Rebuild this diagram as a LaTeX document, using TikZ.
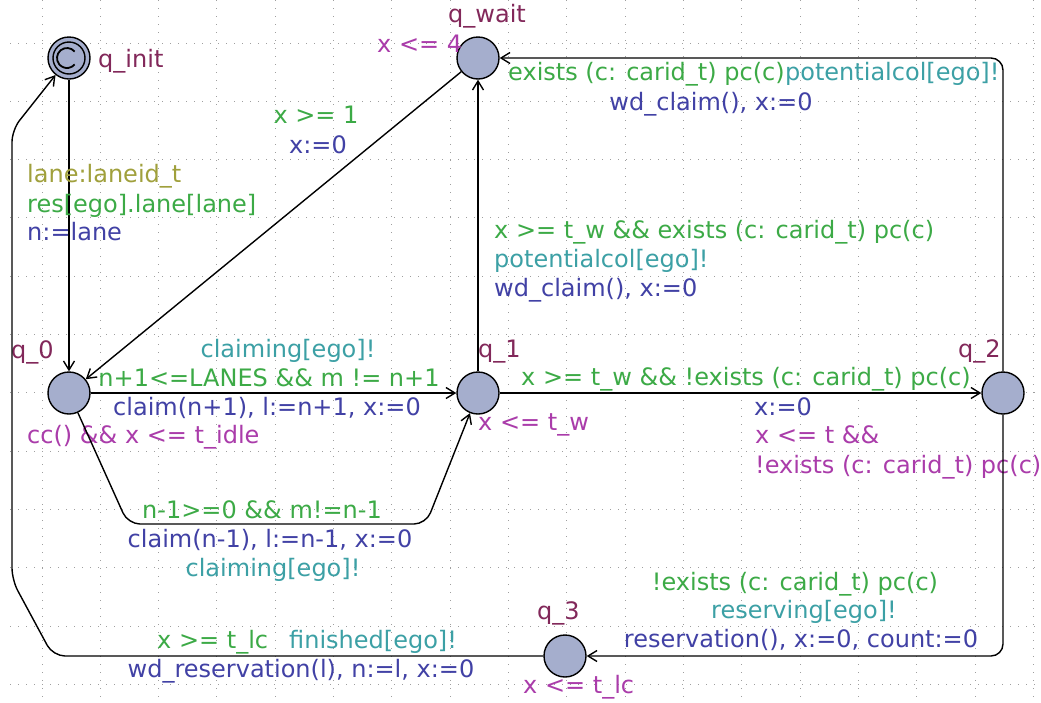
\documentclass[tikz,border=0pt]{standalone}
\usepackage{fontspec}
\setmainfont{DejaVu Sans}
\usetikzlibrary{arrows.meta}
\definecolor{cname}{RGB}{130,40,90}
\definecolor{cinv}{RGB}{170,60,170}
\definecolor{cguard}{RGB}{60,170,70}
\definecolor{csync}{RGB}{60,160,165}
\definecolor{cupd}{RGB}{65,65,165}
\definecolor{csel}{RGB}{160,160,60}
\definecolor{cfill}{RGB}{165,174,205}
\begin{document}
\begin{tikzpicture}[x=1pt,y=-1pt,
  gridline/.style={gray!75,line width=1pt,dash pattern=on 1.3pt off 6.7pt},
  loc/.style={circle,draw=black,fill=cfill,line width=1.4pt,minimum size=42pt,inner sep=0pt},
  edge/.style={line width=1.4pt,rounded corners=12pt,-{Straight Barb[length=9pt,width=11pt,line width=1.4pt]}},
  lbl/.style={inner sep=0pt,font=\fontsize{24}{29}\selectfont},
  nm/.style={lbl,text=cname},
  inv/.style={lbl,text=cinv},
  grd/.style={lbl,text=cguard},
  syn/.style={lbl,text=csync},
  upd/.style={lbl,text=cupd},
  sel/.style={lbl,text=csel}]
\useasboundingbox (0,0) rectangle (1041,702);
\fill[white] (0,0) rectangle (1041,702);
% grid
\foreach \i in {0,...,17} \draw[gridline] ({42+58.33*\i},0) -- ({42+58.33*\i},702);
\foreach \j in {0,...,11} \draw[gridline] (10,{43+58.33*\j}) -- (1041,{43+58.33*\j});
% locations
\node[loc] (qinit) at (69,58) {};
\draw[line width=1.4pt] (qinit.center) circle[radius=16pt];
\draw[line width=1.8pt] (67,58) ++(40:10pt) arc[start angle=40,end angle=320,radius=10pt];
\node[loc] (qwait) at (478,58) {};
\node[loc] (q0) at (69,393) {};
\node[loc] (q1) at (478,393) {};
\node[loc] (q2) at (1003,393) {};
\node[loc] (q3) at (565,656) {};
% location labels
\node[nm,anchor=base west] (lqinit) at (98,67) {q\_init};
\node[nm,anchor=base] (lqwait) at (487,22) {q\_wait};
\node[inv,anchor=base west] (iqwait) at (377,52) {x <= 4};
\node[nm,anchor=base west] (lq0) at (11,358) {q\_0};
\node[inv,anchor=base west] (iq0) at (27,443) {cc() \&\& x <= t\_idle};
\node[nm,anchor=base west] (lq1) at (478,357) {q\_1};
\node[inv,anchor=base west] (iq1) at (478,430) {x <= t\_w};
\node[nm,anchor=base west] (lq2) at (958,357) {q\_2};
\node[inv,anchor=base west] (iq2a) at (755,443) {x <= t \&\&};
\node[inv,anchor=base west] (iq2b) at (755,473) {!exists (c: carid\_t) pc(c)};
\node[nm,anchor=base west] (lq3) at (537,619) {q\_3};
\node[inv,anchor=base west] (iq3) at (523,693) {x <= t\_lc};
% nails
\coordinate (b1) at (128,524);
\coordinate (b2) at (426,524);
\coordinate (r1) at (53,656);
\coordinate (r2) at (12,580);
\coordinate (r3) at (12,130);
% edges
\draw[edge] (qinit) -- (q0);
\draw[edge] (qwait) -- (q0);
\draw[edge] (q0) -- (q1);
\draw[edge] (q0) -- (b1) -- (b2) -- (q1);
\draw[edge] (q1) -- (qwait);
\draw[edge] (q1) -- (q2);
\draw[edge] (q2) |- (qwait);
\draw[edge] (q2) |- (q3);
\draw[edge] (q3) -- (r1) -- (r2) -- (r3) -- (qinit);
% edge labels
\node[sel,anchor=base west] (e1s) at (27,182) {lane:laneid\_t};
\node[grd,anchor=base west] (e1g) at (27,212) {res[ego].lane[lane]};
\node[upd,anchor=base west] (e1u) at (27,240) {n:=lane};
\node[grd,anchor=base] (e2g) at (316,123) {x >= 1};
\node[upd,anchor=base] (e2u) at (318,153) {x:=0};
\node[syn,anchor=base] (e3s) at (288,357) {claiming[ego]!};
\node[grd,anchor=base] (e3g) at (269,386) {n+1<=LANES \&\& m != n+1};
\node[upd,anchor=base] (e3u) at (267,415) {claim(n+1), l:=n+1, x:=0};
\node[grd,anchor=base] (e4g) at (262,518) {n-1>=0 \&\& m!=n-1};
\node[upd,anchor=base] (e4u) at (270,547) {claim(n-1), l:=n-1, x:=0};
\node[syn,anchor=base] (e4s) at (273,576) {claiming[ego]!};
\node[grd,anchor=base west] (e5g) at (494,238) {x >= t\_w \&\& exists (c: carid\_t) pc(c)};
\node[syn,anchor=base west] (e5s) at (494,267) {potentialcol[ego]!};
\node[upd,anchor=base west] (e5u) at (494,296) {wd\_claim(), x:=0};
\node[grd,anchor=base] (e6g) at (746,385) {x >= t\_w \&\& !exists (c: carid\_t) pc(c)};
\node[upd,anchor=base west] (e6u) at (754,415) {x:=0};
\node[grd,anchor=base west] (e7g) at (508,80) {exists (c: carid\_t) pc(c)};
\node[syn,anchor=base west] (e7s) at (e7g.base east) {potentialcol[ego]!};
\node[upd,anchor=base] (e7u) at (711,110) {wd\_claim(), x:=0};
\node[grd,anchor=base] (e8g) at (795,590) {!exists (c: carid\_t) pc(c)};
\node[syn,anchor=base] (e8s) at (804,618) {reserving[ego]!};
\node[upd,anchor=base] (e8u) at (801,647) {reservation(), x:=0, count:=0};
\node[grd,anchor=base west] (e9g) at (157,648) {x >= t\_lc};
\node[syn,anchor=base west] (e9s) at (289,648) {finished[ego]!};
\node[upd,anchor=base] (e9u) at (301,677) {wd\_reservation(l), n:=l, x:=0};
\end{tikzpicture}
\end{document}
